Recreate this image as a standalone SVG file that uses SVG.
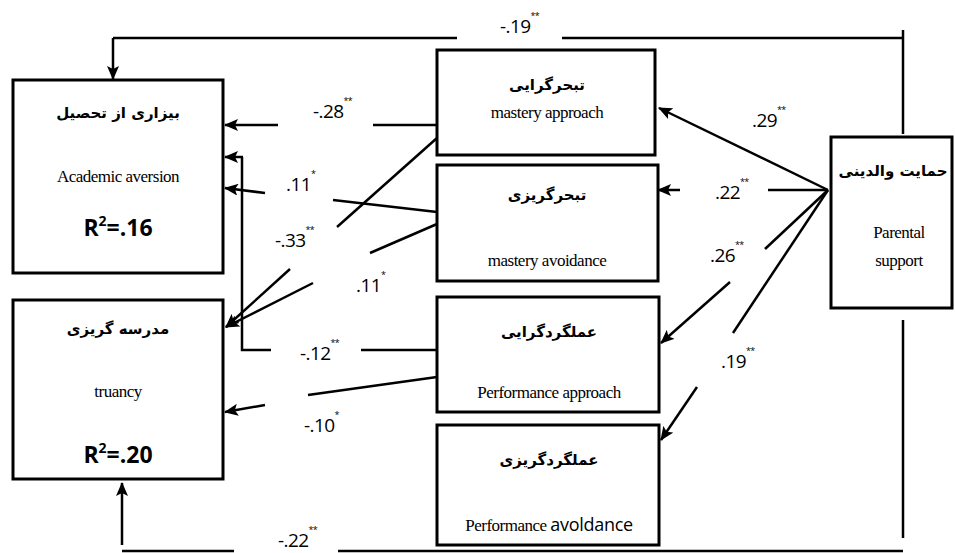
<svg xmlns="http://www.w3.org/2000/svg" width="955" height="553" viewBox="0 0 955 553">
<defs>
<marker id="ah" markerUnits="userSpaceOnUse" markerWidth="14" markerHeight="12" refX="13" refY="6" orient="auto">
<path d="M0,0 L14,6 L0,12 L3,6 Z" fill="#000"/>
</marker>
</defs>
<style>
.box{fill:#fff;stroke:#000;stroke-width:3}
.ln{fill:none;stroke:#000;stroke-width:2.5}
.ar{fill:none;stroke:#000;stroke-width:2.5;marker-end:url(#ah)}
.fa{font-family:"DejaVu Sans",sans-serif;font-size:15px;font-weight:bold;text-anchor:middle}
.en{font-family:"Liberation Serif",serif;font-size:17px;text-anchor:middle;letter-spacing:-0.5px}
.r2{font-family:"Open Sans","Liberation Sans",sans-serif;font-size:23px;font-weight:bold;text-anchor:middle}
.lb{font-family:"Open Sans","Liberation Sans",sans-serif;font-size:19px;letter-spacing:-0.6px}
.st{font-size:9px}
</style>
<rect width="955" height="553" fill="#fff"/>

<g id="connectors">
<polyline class="ln" points="457,38 113,38"/>
<line class="ar" x1="113" y1="38" x2="113" y2="79"/>
<polyline class="ln" points="562,38 903,38"/>
<line class="ln" x1="903" y1="30" x2="903" y2="134"/>
<line class="ln" x1="903" y1="320" x2="903" y2="538"/>
<line class="ln" x1="338" y1="551" x2="903" y2="551"/>
<line class="ln" x1="122" y1="551" x2="234" y2="551"/>
<line class="ar" x1="122" y1="545" x2="122" y2="483"/>
<line class="ln" x1="437" y1="125" x2="373" y2="125"/>
<line class="ar" x1="278" y1="125" x2="225" y2="125"/>
<line class="ln" x1="437" y1="350" x2="361" y2="350"/>
<polyline class="ln" points="271,350 242,350 242,157"/>
<line class="ar" x1="243" y1="157" x2="225" y2="157"/>
<line class="ln" x1="437" y1="212" x2="333" y2="200"/>
<line class="ar" x1="265" y1="193" x2="225" y2="188"/>
<line class="ln" x1="437" y1="138" x2="337" y2="227"/>
<line class="ar" x1="290" y1="269" x2="226" y2="327"/>
<line class="ln" x1="437" y1="224" x2="370" y2="253"/>
<line class="ar" x1="313" y1="283" x2="226" y2="327"/>
<line class="ln" x1="437" y1="377" x2="308" y2="395"/>
<line class="ar" x1="265" y1="405" x2="225" y2="412"/>
<line class="ar" x1="828" y1="190" x2="659" y2="108"/>
<line class="ln" x1="828" y1="190" x2="768" y2="190"/>
<line class="ar" x1="680" y1="190" x2="658" y2="190"/>
<line class="ln" x1="828" y1="190" x2="765" y2="249"/>
<line class="ar" x1="730" y1="282" x2="661" y2="343"/>
<line class="ln" x1="828" y1="190" x2="733" y2="333"/>
<line class="ar" x1="697" y1="387" x2="661" y2="440"/>
</g>

<g id="labels">
<text class="lb" x="500" y="33">-.19<tspan class="st" dy="-14">**</tspan></text>
<text class="lb" x="278" y="547">-.22<tspan class="st" dy="-14">**</tspan></text>
<text class="lb" x="313" y="118">-.28<tspan class="st" dy="-14">**</tspan></text>
<text class="lb" x="286" y="191">.11<tspan class="st" dy="-14">*</tspan></text>
<text class="lb" x="275" y="247">-.33<tspan class="st" dy="-14">**</tspan></text>
<text class="lb" x="356" y="292">.11<tspan class="st" dy="-14">*</tspan></text>
<text class="lb" x="300" y="360">-.12<tspan class="st" dy="-14">**</tspan></text>
<text class="lb" x="304" y="432">-.10<tspan class="st" dy="-14">*</tspan></text>
<text class="lb" x="752" y="127">.29<tspan class="st" dy="-14">**</tspan></text>
<text class="lb" x="715" y="199">.22<tspan class="st" dy="-14">**</tspan></text>
<text class="lb" x="710" y="262">.26<tspan class="st" dy="-14">**</tspan></text>
<text class="lb" x="721" y="368">.19<tspan class="st" dy="-14">**</tspan></text>
</g>

<g id="academic-aversion">
<rect class="box" x="13" y="80" width="210" height="193"/>
<text class="fa" x="118" y="118">بیزاری از تحصیل</text>
<text class="en" x="118" y="182">Academic aversion</text>
<text class="r2" x="118" y="236">R<tspan font-size="14" dy="-10">2</tspan><tspan dy="10">=.16</tspan></text>
</g>

<g id="truancy">
<rect class="box" x="13" y="300" width="210" height="179"/>
<text class="fa" x="118" y="334">مدرسه گریزی</text>
<text class="en" x="118" y="397">truancy</text>
<text class="r2" x="118" y="463">R<tspan font-size="14" dy="-10">2</tspan><tspan dy="10">=.20</tspan></text>
</g>

<g id="mastery-approach">
<rect class="box" x="437" y="50" width="218" height="105"/>
<text class="fa" x="547" y="90">تبحرگرایی</text>
<text class="en" x="547" y="118">mastery approach</text>
</g>

<g id="mastery-avoidance">
<rect class="box" x="437" y="165" width="221" height="116"/>
<text class="fa" x="547" y="200">تبحرگریزی</text>
<text class="en" x="547" y="266">mastery avoidance</text>
</g>

<g id="performance-approach">
<rect class="box" x="437" y="297" width="222" height="115"/>
<text class="fa" x="549" y="337">عملگردگرایی</text>
<text class="en" x="549" y="398">Performance approach</text>
</g>

<g id="performance-avoidance">
<rect class="box" x="437" y="425" width="222" height="120"/>
<text class="fa" x="549" y="465">عملگردگریزی</text>
<text class="en" x="549" y="531">Performance <tspan font-family="Open Sans, Liberation Sans, sans-serif" font-size="18" letter-spacing="-0.3">avoldance</tspan></text>
</g>

<g id="parental-support">
<rect class="box" x="831" y="137" width="121" height="171"/>
<text class="fa" x="893" y="176">حمایت والدینی</text>
<text class="en" x="899" y="238">Parental</text>
<text class="en" x="899" y="266">support</text>
</g>
</svg>
